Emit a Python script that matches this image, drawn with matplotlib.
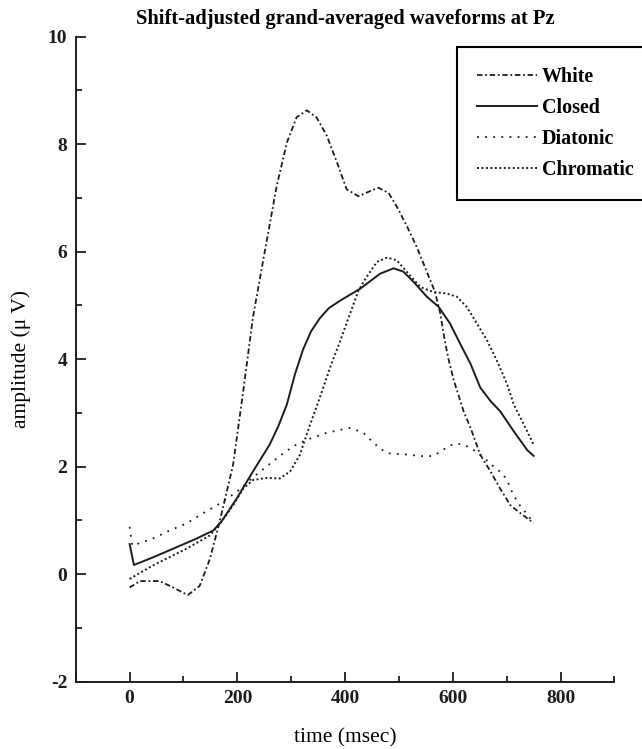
import numpy as np
import matplotlib
matplotlib.use('Agg')
import matplotlib.pyplot as plt
from matplotlib.ticker import MultipleLocator

plt.rcParams['font.family'] = ['Liberation Serif', 'DejaVu Serif']
plt.rcParams['axes.unicode_minus'] = False

# values (time in msec, amplitude in microvolts)
white_t = [0, 19, 56, 81, 108, 130, 149, 167, 192, 211, 229, 248, 273, 292, 310, 329, 347, 366,
           385, 403, 425, 447, 462, 481, 496, 515, 533, 552, 567, 577, 585, 592, 602, 620, 633,
           651, 670, 688, 707, 726, 750]
white_v = [-0.25, -0.13, -0.13, -0.25, -0.39, -0.22, 0.28, 0.97, 2.03, 3.41, 4.78, 5.84, 7.22, 8.03,
           8.5, 8.63, 8.5, 8.16, 7.66, 7.16, 7.03, 7.13, 7.19, 7.09, 6.84, 6.47, 6.09, 5.62, 5.25,
           4.84, 4.35, 4.0, 3.6, 3.03, 2.72, 2.22, 1.91, 1.59, 1.28, 1.13, 0.95]

closed_t = [0, 8, 43, 87, 124, 155, 170, 199, 229, 260, 276, 292, 307, 322, 337, 353, 370, 391,
            428, 465, 490, 508, 527, 552, 574, 595, 614, 633, 651, 670, 688, 713, 738, 750]
closed_v = [0.56, 0.17, 0.31, 0.5, 0.66, 0.81, 0.97, 1.41, 1.91, 2.41, 2.75, 3.16, 3.72, 4.18, 4.52,
            4.76, 4.95, 5.09, 5.31, 5.59, 5.69, 5.63, 5.44, 5.16, 4.97, 4.66, 4.28, 3.91, 3.47,
            3.22, 3.03, 2.66, 2.31, 2.2]

diatonic_t = [0, 5, 43, 74, 105, 136, 167, 199, 229, 254, 279, 304, 329, 366, 394, 409, 434, 450,
              465, 478, 508, 549, 564, 577, 592, 605, 620, 636, 655, 676, 691, 701, 707, 713, 722,
              732, 750]
diatonic_v = [0.88, 0.53, 0.66, 0.81, 0.94, 1.13, 1.31, 1.53, 1.8, 2.0, 2.2, 2.38, 2.5, 2.63, 2.69,
              2.72, 2.63, 2.47, 2.34, 2.25, 2.23, 2.19, 2.2, 2.28, 2.38, 2.43, 2.41, 2.33, 2.19,
              2.0, 1.88, 1.75, 1.59, 1.47, 1.31, 1.19, 0.95]

chromatic_t = [0, 43, 105, 149, 170, 192, 211, 229, 254, 279, 298, 316, 335, 353, 372, 391, 409,
               425, 440, 459, 478, 496, 515, 540, 564, 589, 608, 626, 645, 664, 682, 701, 713,
               732, 750]
chromatic_v = [-0.09, 0.16, 0.47, 0.72, 0.97, 1.28, 1.59, 1.75, 1.79, 1.78, 1.91, 2.22, 2.78, 3.28,
               3.84, 4.34, 4.84, 5.28, 5.53, 5.81, 5.89, 5.84, 5.62, 5.34, 5.25, 5.22, 5.16, 4.97,
               4.66, 4.34, 3.97, 3.53, 3.16, 2.78, 2.41]

ink = '#1c1c1c'

fig = plt.figure(figsize=(6.42, 7.49), dpi=100)
ax = fig.add_axes([0.118, 0.09, 0.839, 0.861])

ax.plot(white_t, white_v, color=ink, lw=1.3, ls=(0, (3, 1.5, 1, 1.5)), label='White')
ax.plot(closed_t, closed_v, color=ink, lw=1.4, ls='-', label='Closed')
ax.plot(diatonic_t, diatonic_v, color=ink, lw=1.3, ls=(0, (1, 3.5)), label='Diatonic')
ax.plot(chromatic_t, chromatic_v, color=ink, lw=1.4, ls=(0, (1, 1.3)), label='Chromatic')

ax.set_xlim(-100, 900)
ax.set_ylim(-2, 10)
ax.xaxis.set_major_locator(MultipleLocator(200))
ax.xaxis.set_minor_locator(MultipleLocator(100))
ax.yaxis.set_major_locator(MultipleLocator(2))
ax.yaxis.set_minor_locator(MultipleLocator(1))
ax.set_xticks([0, 200, 400, 600, 800])
ax.spines['top'].set_visible(False)
ax.spines['right'].set_visible(False)
for s in ['left', 'bottom']:
    ax.spines[s].set_linewidth(1.4)
    ax.spines[s].set_color(ink)
ax.tick_params(which='major', direction='in', length=7, width=1.3, labelsize=14, pad=6, colors=ink)
ax.tick_params(which='minor', direction='in', length=4, width=1.3, colors=ink)
for lab in ax.get_xticklabels() + ax.get_yticklabels():
    lab.set_fontweight('bold')

ax.set_xlabel('time (msec)', fontsize=15.5, labelpad=15)
ax.set_ylabel('amplitude (\u03bc V)', fontsize=15.5, labelpad=12)
ax.set_title('Shift-adjusted grand-averaged waveforms at Pz', fontsize=14.8, fontweight='bold', pad=9)

leg = ax.legend(loc='upper left', bbox_to_anchor=(456.7 / 642, 1 - 46.7 / 749),
                bbox_transform=fig.transFigure, borderaxespad=0, fancybox=False, framealpha=1,
                edgecolor='black', borderpad=1.0, handlelength=3.0, handletextpad=0.25,
                labelspacing=0.56, prop={'size': 14.4, 'weight': 'bold'})
leg.get_frame().set_linewidth(1.5)

fig.savefig('out.png', dpi=100)
